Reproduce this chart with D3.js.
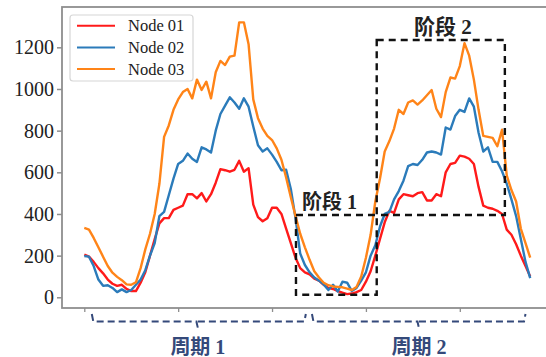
<!DOCTYPE html>
<html>
<head>
<meta charset="utf-8">
<script src="https://cdn.jsdelivr.net/npm/d3@7"></script>
<style>
  html, body { margin: 0; padding: 0; background: #fff; }
  svg { display: block; }
</style>
</head>
<body>
<svg id="chart" width="546" height="357"></svg>
<script>
// ---------------- data ----------------
const seriesNames = ["Node 01", "Node 02", "Node 03"];
const seriesColors = ["#ff1a1a", "#2b7bba", "#ff8418"];
const node01 = [205,195,170,140,115,85,65,55,60,40,
  30,30,70,120,200,280,355,380,380,420,
  430,440,495,495,475,500,460,495,550,615,
  610,603,612,655,603,620,445,385,365,380,
  430,430,400,330,260,190,140,120,110,90,
  80,60,45,40,30,22,15,18,25,35,
  75,125,200,280,360,415,405,470,495,490,
  485,500,505,465,465,495,485,600,640,645,
  680,675,665,640,530,440,430,425,415,400,
  325,300,255,200,150,100];
const node02 = [198,195,150,85,55,58,45,25,38,25,
  35,60,85,130,200,260,390,410,490,570,
  640,655,690,665,650,720,710,695,800,880,
  920,960,935,905,955,915,820,730,700,715,
  685,650,610,612,520,380,210,155,120,95,
  80,62,35,60,28,75,70,30,45,80,
  120,200,250,340,400,410,470,510,560,630,
  640,635,660,695,700,695,685,815,805,870,
  900,890,955,915,790,700,720,650,650,605,
  545,470,390,280,170,92];
const node03 = [333,325,285,240,195,150,118,98,82,62,
  60,72,140,230,305,400,545,770,825,900,
  950,985,1000,955,1045,995,1035,955,1080,1135,
  1115,1155,1160,1320,1320,1215,950,860,810,775,
  755,715,660,575,480,390,305,240,180,125,
  95,70,58,52,50,48,42,35,50,100,
  190,300,460,570,700,750,810,900,880,935,
  945,925,945,970,995,905,865,985,1055,1050,
  1110,1220,1160,1045,900,775,770,765,725,805,
  585,515,460,330,260,190];
const seriesValues = [node01, node02, node03];
const timeSteps = d3.range(node01.length);
const yTicks = [0, 200, 400, 600, 800, 1000, 1200];
const xTicks = [0, 20, 40, 60, 80];

// annotation boxes (data coords)
const stageLabels = ["阶段 1", "阶段 2"];
const stageBoxes = [
  {x0: 45.1, x1: 62.3, y0: 12, y1: 395},
  {x0: 62.3, x1: 89.6, y0: 395, y1: 1235}
];
const periodLabels = ["周期 1", "周期 2"];
const periodSpans = [
  {x0: 1.6, x1: 47.2, xc: 24.2},
  {x0: 48.5, x1: 94.0, xc: 71.3}
];

// ---------------- layout ----------------
const svg = d3.select("#chart");
const L = 62, R = 552.5, T = 7, B = 308;
const x = d3.scaleLinear().domain([-4.75, 99.75]).range([L, R]);
const y = d3.scaleLinear().domain([-51.4, 1393.6]).range([B, T]);

const serif = "'Liberation Serif', 'Times New Roman', 'Noto Sans CJK SC', serif";

// frame
const spineColor = "#8e8e8e";
svg.append("rect").attr("x", L).attr("y", T).attr("width", R - L).attr("height", B - T)
  .attr("fill", "none").attr("stroke", spineColor).attr("stroke-width", 1.8);

// y axis
const yAxis = d3.axisLeft(y).tickValues(yTicks).tickSize(5).tickPadding(3).tickFormat(d3.format("d"));
const gy = svg.append("g").attr("transform", `translate(${L},0)`).call(yAxis);
gy.select(".domain").remove();
gy.attr("font-family", null).attr("font-size", null);
gy.selectAll(".tick line").attr("stroke", spineColor).attr("stroke-width", 1.5);
gy.selectAll(".tick text").style("font-family", serif).style("font-size", "20px")
  .attr("fill", "#222");

// x axis (ticks only)
const xAxis = d3.axisBottom(x).tickValues(xTicks).tickSize(4).tickFormat("");
const gx = svg.append("g").attr("transform", `translate(0,${B})`).call(xAxis);
gx.select(".domain").remove();
gx.selectAll(".tick line").attr("stroke", spineColor).attr("stroke-width", 1.3);

// lines
const line = d3.line().x((d, i) => x(timeSteps[i])).y(d => y(d));
seriesValues.forEach((vals, k) => {
  svg.append("path").datum(vals)
    .attr("fill", "none").attr("stroke", seriesColors[k])
    .attr("stroke-width", 2.4).attr("stroke-linejoin", "round")
    .attr("d", line);
});

// stage boxes
stageBoxes.forEach((b) => {
  svg.append("rect")
    .attr("x", x(b.x0)).attr("y", y(b.y1))
    .attr("width", x(b.x1) - x(b.x0)).attr("height", y(b.y0) - y(b.y1))
    .attr("fill", "none").attr("stroke", "#111").attr("stroke-width", 2.4)
    .attr("stroke-dasharray", "7,5");
});
svg.append("text").attr("x", x(45.1) + 6).attr("y", y(395) - 6)
  .style("font-family", serif).style("font-weight", "bold").style("font-size", "20px")
  .attr("fill", "#222").text(stageLabels[0]);
svg.append("text").attr("x", (x(62.3) + x(89.6)) / 2 + 2).attr("y", y(1235) - 6)
  .attr("text-anchor", "middle")
  .style("font-family", serif).style("font-weight", "bold").style("font-size", "21px")
  .attr("fill", "#222").text(stageLabels[1]);

// legend
const lg = svg.append("g");
lg.append("rect").attr("x", 70).attr("y", 15).attr("width", 123).attr("height", 66)
  .attr("rx", 3).attr("fill", "#fff").attr("stroke", "#d6d6d6").attr("stroke-width", 1.2);
seriesNames.forEach((n, k) => {
  const yy = 25.7 + k * 21.7;
  lg.append("line").attr("x1", 77).attr("x2", 115).attr("y1", yy).attr("y2", yy)
    .attr("stroke", seriesColors[k]).attr("stroke-width", 2);
  lg.append("text").attr("x", 128).attr("y", yy + 5.5)
    .style("font-family", serif).style("font-size", "16.5px").attr("fill", "#222").text(n);
});

// period brackets
const navy = "#34497a";
periodSpans.forEach((p, k) => {
  const x0 = x(p.x0), x1 = x(p.x1), xc = x(p.xc);
  const yb = 321.5;
  const path = `M${x0},314 L${x0 + 1.5},${yb} L${xc - 1.5},${yb} L${xc},328 M${xc},${yb} L${x1 - 1.5},${yb} L${x1},314`;
  svg.append("path").attr("d", path).attr("fill", "none").attr("stroke", navy)
    .attr("stroke-width", 2).attr("stroke-dasharray", "7,4");
  svg.append("text").attr("x", xc).attr("y", 354).attr("text-anchor", "middle")
    .style("font-family", serif).style("font-weight", "bold").style("font-size", "20px")
    .attr("fill", navy).text(periodLabels[k]);
});
</script>
</body>
</html>
